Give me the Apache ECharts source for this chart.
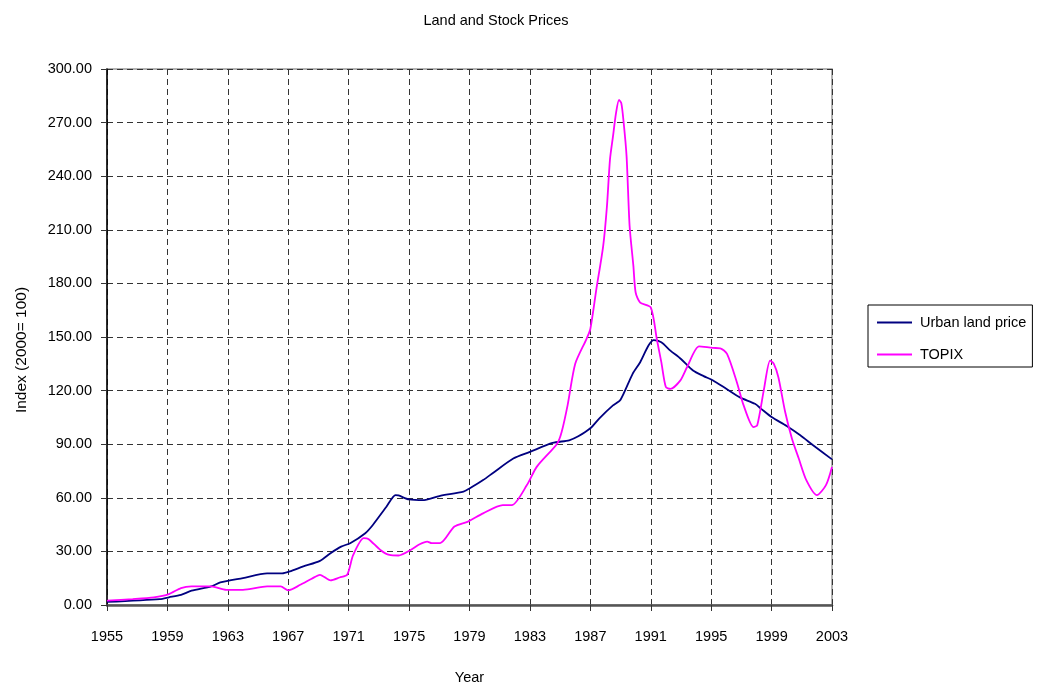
<!DOCTYPE html>
<html>
<head>
<meta charset="utf-8">
<script src="https://cdn.jsdelivr.net/npm/echarts@6/dist/echarts.min.js"></script>
<style>
html,body{margin:0;padding:0;background:#fff;}
#chart{width:1040px;height:690px;}
</style>
</head>
<body>
<div id="chart"></div>
<script>
const chartTitle = "Land and Stock Prices";
const xAxisName = "Year";
const yAxisName = "Index (2000= 100)";
const seriesNames = ["Urban land price", "TOPIX"];
const xTicks = [1955, 1959, 1963, 1967, 1971, 1975, 1979, 1983, 1987, 1991, 1995, 1999, 2003];

const landYears = [1955, 1958.5, 1959.1, 1959.9, 1960.6, 1961.9, 1962.5, 1964.0, 1965.6, 1966.6, 1967.1, 1968.0, 1969.1, 1969.8, 1970.5, 1971.1, 1972.1, 1972.6, 1973.5, 1974.1, 1974.3, 1975.0, 1976.0, 1977.0, 1978.6, 1979.0, 1979.9, 1980.6, 1981.9, 1983.0, 1984.5, 1985.6, 1986.2, 1987.0, 1987.6, 1988.5, 1989.0, 1989.8, 1990.3, 1990.85, 1991.2, 1991.7, 1992.3, 1993.0, 1993.8, 1994.5, 1995.1, 1996.0, 1996.9, 1997.9, 1998.3, 1999.0, 2000.0, 2000.9, 2001.75, 2003.0];
const landValues = [1.7, 3.3, 4.3, 5.7, 8.0, 10.4, 12.6, 15.1, 17.7, 17.7, 18.8, 21.6, 24.7, 29.0, 32.7, 34.6, 40.2, 44.8, 55.0, 61.5, 61.3, 59.1, 58.7, 61.0, 63.4, 65.2, 69.9, 74.2, 82.0, 85.7, 90.7, 92.2, 94.4, 98.9, 104.5, 111.7, 114.9, 129.4, 135.9, 145.2, 148.2, 147.0, 142.4, 137.7, 131.2, 128.1, 125.8, 121.0, 116.2, 112.6, 109.9, 105.2, 100.2, 95.0, 89.4, 81.5];

const topixYears = [1955, 1956.7, 1958.1, 1959.1, 1959.9, 1960.6, 1961.9, 1962.9, 1964.0, 1965.6, 1966.5, 1967.0, 1967.8, 1968.55, 1969.1, 1969.8, 1970.4, 1970.9, 1971.3, 1972.0, 1972.3, 1973.1, 1973.7, 1974.3, 1975.1, 1975.7, 1976.2, 1976.5, 1977.05, 1978.0, 1978.9, 1979.9, 1981.2, 1981.8, 1982.8, 1983.45, 1984.8, 1985.1, 1985.5, 1986.0, 1986.75, 1987.0, 1987.4, 1987.85, 1988.1, 1988.3, 1988.5, 1988.7, 1988.9, 1989.05, 1989.2, 1989.4, 1989.6, 1989.85, 1990.0, 1990.3, 1991.0, 1991.4, 1991.7, 1992.0, 1992.3, 1992.95, 1993.4, 1994.2, 1995.1, 1995.6, 1996.05, 1996.7, 1997.15, 1997.8, 1998.05, 1998.5, 1998.9, 1999.15, 1999.45, 1999.9, 2000.35, 2000.8, 2001.3, 2002.0, 2002.6, 2003.0];
const topixValues = [2.4, 3.3, 4.3, 6.1, 9.5, 10.4, 10.4, 8.5, 8.5, 10.4, 10.4, 8.2, 11.3, 14.7, 16.9, 13.8, 15.4, 16.9, 28.0, 37.4, 37.0, 30.8, 28.0, 27.7, 30.8, 34.0, 35.5, 34.6, 34.6, 43.9, 46.7, 51.3, 55.9, 55.9, 67.1, 77.3, 90.3, 96.8, 112.0, 135.0, 149.0, 154.5, 176.8, 200.9, 223.2, 249.3, 262.3, 275.3, 282.7, 280.9, 270.6, 251.1, 212.1, 189.8, 174.9, 169.3, 166.6, 148.9, 135.9, 122.0, 121.0, 125.6, 133.1, 144.8, 143.9, 143.7, 140.5, 124.7, 111.7, 99.6, 100.6, 121.0, 136.8, 135.0, 127.5, 108.0, 93.1, 82.0, 69.9, 61.5, 67.1, 77.3];

const landData = landYears.map((y, i) => [y, landValues[i]]);
const topixData = topixYears.map((y, i) => [y, topixValues[i]]);

const font = "'Liberation Sans', Arial, sans-serif";
const fs = 14.5;
const chart = echarts.init(document.getElementById('chart'), null, {renderer: 'canvas'});
chart.setOption({
  animation: false,
  backgroundColor: '#ffffff',
  textStyle: {fontFamily: font, color: '#000'},
  title: {
    text: chartTitle, left: 491, top: 8, textAlign: 'center',
    textStyle: {fontFamily: font, fontSize: fs, fontWeight: 'normal', color: '#000'}
  },
  legend: {
    orient: 'vertical', left: 868, top: 305,
    padding: [10, 6, 5, 9], itemGap: 17,
    borderColor: '#000', borderWidth: 1,
    itemWidth: 35, itemHeight: 2, icon: 'rect',
    textStyle: {fontFamily: font, fontSize: fs, color: '#000', padding: [0, 0, 0, 3]},
    data: seriesNames
  },
  grid: {left: 107, right: 208, top: 69, bottom: 83, show: true, borderColor: '#999', borderWidth: 1.5},
  xAxis: {
    type: 'value', min: 1955, max: 2003, interval: 4,
    name: xAxisName, nameLocation: 'middle', nameGap: 65,
    nameTextStyle: {fontFamily: font, fontSize: fs, color: '#000'},
    axisLine: {show: true, lineStyle: {color: '#555', width: 2.5}},
    axisTick: {show: true, length: 6, lineStyle: {color: '#333'}},
    axisLabel: {fontFamily: font, fontSize: fs, color: '#000', margin: 24, formatter: v => String(v)},
    splitLine: {show: true, lineStyle: {color: '#333', type: [6, 4], width: 1}}
  },
  yAxis: {
    type: 'value', min: 0, max: 300, interval: 30,
    name: yAxisName, nameLocation: 'middle', nameGap: 77,
    nameTextStyle: {fontFamily: font, fontSize: 15.5, color: '#000', padding: [0, 26, 0, 0]},
    axisLine: {show: true, lineStyle: {color: '#000', width: 1.5}},
    axisTick: {show: true, length: 6, lineStyle: {color: '#333'}},
    axisLabel: {fontFamily: font, fontSize: fs, color: '#000', margin: 15, formatter: v => v.toFixed(2)},
    splitLine: {show: true, lineStyle: {color: '#333', type: [6, 4], width: 1}}
  },
  series: [
    {name: seriesNames[0], type: 'line', data: landData, showSymbol: false, smooth: 0.25,
     lineStyle: {color: '#000080', width: 1.8}, itemStyle: {color: '#000080'}},
    {name: seriesNames[1], type: 'line', data: topixData, showSymbol: false, smooth: 0.25,
     lineStyle: {color: '#ff00ff', width: 1.8}, itemStyle: {color: '#ff00ff'}}
  ]
});
</script>
</body>
</html>
